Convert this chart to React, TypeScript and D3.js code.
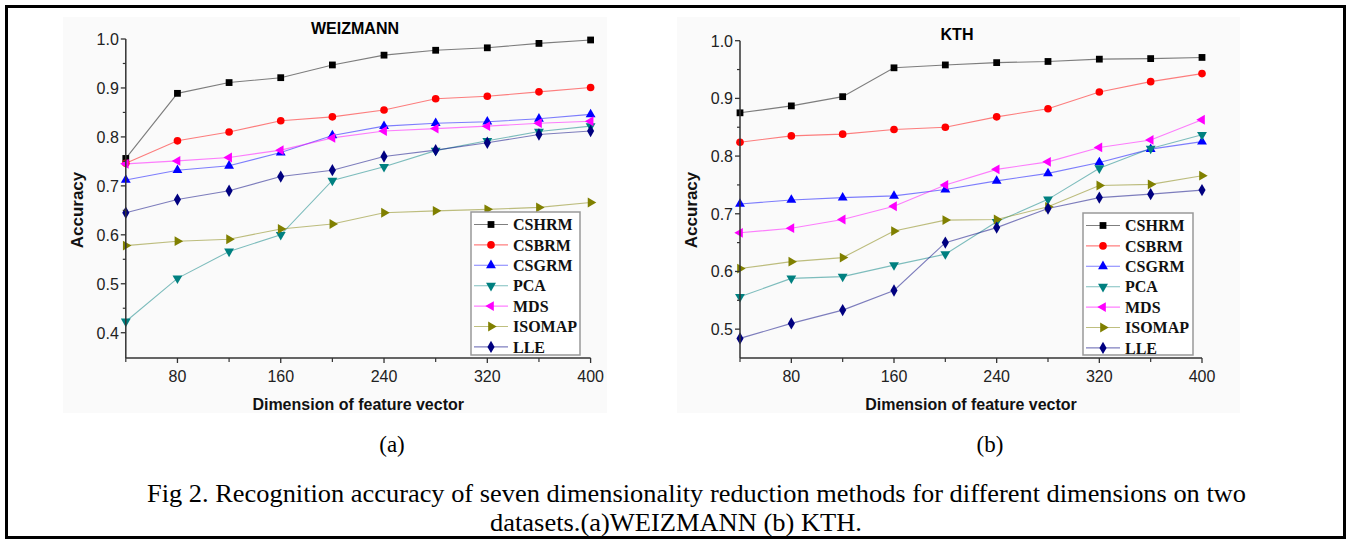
import React from "react";
import * as d3 from "d3";

const W = 1351;
const H = 540;

// feature vector dimensions (x axis)
const dims = [40, 80, 120, 160, 200, 240, 280, 320, 360, 400];
const xTickLabels = [80, 160, 240, 320, 400];
const xMinorTicks = [40, 120, 200, 280, 360];

const methods = ["CSHRM", "CSBRM", "CSGRM", "PCA", "MDS", "ISOMAP", "LLE"];

// WEIZMANN
const weizCSHRM = [0.756, 0.889, 0.911, 0.921, 0.947, 0.967, 0.977, 0.982, 0.991, 0.998];
const weizCSBRM = [0.746, 0.792, 0.81, 0.833, 0.841, 0.855, 0.878, 0.883, 0.892, 0.901];
const weizCSGRM = [0.712, 0.732, 0.741, 0.768, 0.803, 0.822, 0.828, 0.831, 0.837, 0.846];
const weizPCA = [0.423, 0.511, 0.566, 0.6, 0.711, 0.739, 0.772, 0.792, 0.811, 0.822];
const weizMDS = [0.745, 0.751, 0.758, 0.773, 0.798, 0.812, 0.817, 0.822, 0.828, 0.832];
const weizISOMAP = [0.578, 0.587, 0.591, 0.612, 0.622, 0.645, 0.649, 0.652, 0.656, 0.666];
const weizLLE = [0.645, 0.672, 0.69, 0.719, 0.732, 0.76, 0.773, 0.788, 0.805, 0.812];

// KTH
const kthCSHRM = [0.875, 0.887, 0.903, 0.953, 0.958, 0.962, 0.964, 0.968, 0.969, 0.971];
const kthCSBRM = [0.824, 0.835, 0.838, 0.846, 0.85, 0.868, 0.882, 0.911, 0.929, 0.943];
const kthCSGRM = [0.717, 0.724, 0.728, 0.731, 0.742, 0.757, 0.77, 0.789, 0.812, 0.825];
const kthPCA = [0.556, 0.588, 0.591, 0.611, 0.63, 0.686, 0.725, 0.779, 0.813, 0.837];
const kthMDS = [0.667, 0.675, 0.69, 0.713, 0.75, 0.777, 0.79, 0.815, 0.828, 0.863];
const kthISOMAP = [0.605, 0.617, 0.624, 0.67, 0.689, 0.69, 0.712, 0.749, 0.751, 0.766];
const kthLLE = [0.484, 0.51, 0.533, 0.567, 0.65, 0.676, 0.709, 0.728, 0.734, 0.741];

const weizTicks = ["0.4", "0.5", "0.6", "0.7", "0.8", "0.9", "1.0"];
const kthTicks = ["0.5", "0.6", "0.7", "0.8", "0.9", "1.0"];

const colors = ["#000000", "#ff0000", "#0000ff", "#008080", "#ff00ff", "#808000", "#000080"];
const shapes = [
  { type: d3.symbolSquare, size: 46, rot: 0 },
  { type: d3.symbolCircle, size: 46, rot: 0 },
  { type: d3.symbolTriangle, size: 42, rot: 0 },
  { type: d3.symbolTriangle, size: 42, rot: 180 },
  { type: d3.symbolTriangle, size: 42, rot: -90 },
  { type: d3.symbolTriangle, size: 42, rot: 90 },
  { type: d3.symbolDiamond, size: 44, rot: 0 },
];

const sans = "'Liberation Sans', Arial, sans-serif";
const serif = "'Liberation Serif', 'Times New Roman', serif";

function Panel(props: any) {
  const { series, yDomain, yRange, xRange, ticks, title, titlePos, legend, sub, subX, bg } = props;
  const x = d3.scaleLinear().domain([40, 400]).range(xRange);
  const y = d3.scaleLinear().domain(yDomain).range(yRange);
  const axisY = 358;
  const line = d3
    .line<number>()
    .x((d, i) => x(dims[i]))
    .y((d) => y(d));
  const minorY = ticks.slice(0, -1).map((t: string) => +t + 0.05);
  const x0 = xRange[0];
  const cx = (xRange[0] + xRange[1]) / 2;

  return (
    <g>
      <rect x={bg[0]} y={17} width={bg[1] - bg[0]} height={396} fill="#fafafa" />
      <text x={titlePos[0]} y={titlePos[1]} textAnchor="middle" fontFamily={sans} fontWeight="bold" fontSize={16}>
        {title}
      </text>
      {series.map((vals: number[], k: number) => (
        <path key={"l" + k} d={line(vals) || ""} fill="none" stroke={colors[k]} strokeOpacity={0.5} strokeWidth={1.1} />
      ))}
      {series.map((vals: number[], k: number) =>
        vals.map((v, i) => (
          <path
            key={"m" + k + "-" + i}
            d={d3.symbol().type(shapes[k].type).size(shapes[k].size)() || ""}
            transform={`translate(${x(dims[i])},${y(v)}) rotate(${shapes[k].rot})`}
            fill={colors[k]}
          />
        ))
      )}
      {/* y axis */}
      <line x1={x0} x2={x0} y1={y(1.0)} y2={axisY} stroke="#333" strokeWidth={1.5} />
      {ticks.map((t: string) => (
        <g key={t}>
          <line x1={x0 - 5} x2={x0} y1={y(+t)} y2={y(+t)} stroke="#333" strokeWidth={1.3} />
          <text x={x0 - 7} y={y(+t) + 5.8} textAnchor="end" fontFamily={sans} fontSize={16} fill="#222">
            {t}
          </text>
        </g>
      ))}
      {minorY.map((t: number) => (
        <line key={"mn" + t} x1={x0 - 3} x2={x0} y1={y(t)} y2={y(t)} stroke="#333" strokeWidth={1.2} />
      ))}
      {/* x axis */}
      <line x1={x0} x2={xRange[1]} y1={axisY} y2={axisY} stroke="#333" strokeWidth={1.5} />
      {xTickLabels.map((t) => (
        <g key={t}>
          <line x1={x(t)} x2={x(t)} y1={axisY} y2={axisY + 5} stroke="#333" strokeWidth={1.3} />
          <text x={x(t)} y={381.5} textAnchor="middle" fontFamily={sans} fontSize={16} fill="#222">
            {t}
          </text>
        </g>
      ))}
      {xMinorTicks.map((t) => (
        <line key={"xm" + t} x1={x(t)} x2={x(t)} y1={axisY} y2={axisY + 4} stroke="#333" strokeWidth={1.2} />
      ))}
      <text x={cx} y={410} textAnchor="middle" fontFamily={sans} fontWeight="bold" fontSize={16} fill="#111">
        Dimension of feature vector
      </text>
      <text
        transform={`translate(${x0 - 43},210) rotate(-90)`}
        textAnchor="middle"
        fontFamily={sans}
        fontWeight="bold"
        fontSize={17}
        fill="#111"
      >
        Accuracy
      </text>
      {/* legend */}
      <rect
        x={legend[0]}
        y={legend[1]}
        width={legend[2]}
        height={legend[3]}
        fill="#ffffff"
        stroke="#999"
        strokeWidth={1.5}
      />
      {methods.map((m, k) => {
        const ry = legend[1] + 12.5 + k * 20.4;
        const lx = legend[0] + 3;
        return (
          <g key={m}>
            <line x1={lx} x2={lx + 34} y1={ry} y2={ry} stroke={colors[k]} strokeOpacity={0.5} strokeWidth={1.1} />
            <path
              d={d3.symbol().type(shapes[k].type).size(shapes[k].size)() || ""}
              transform={`translate(${lx + 17},${ry}) rotate(${shapes[k].rot})`}
              fill={colors[k]}
            />
            <text x={lx + 39} y={ry + 5.6} fontFamily={serif} fontWeight="bold" fontSize={16} fill="#111">
              {m}
            </text>
          </g>
        );
      })}
      <text x={subX} y={452} textAnchor="middle" fontFamily={serif} fontSize={23} fill="#000">
        {sub}
      </text>
    </g>
  );
}

export default function App() {
  const weiz = [weizCSHRM, weizCSBRM, weizCSGRM, weizPCA, weizMDS, weizISOMAP, weizLLE];
  const kth = [kthCSHRM, kthCSBRM, kthCSGRM, kthPCA, kthMDS, kthISOMAP, kthLLE];
  return (
    <svg width={W} height={H} style={{ position: "absolute", left: 0, top: 0, background: "#fff" }}>
      <rect x={0} y={0} width={W} height={H} fill="#fff" />
      <Panel
        series={weiz}
        yDomain={[0.35, 1.0]}
        yRange={[357.2, 39]}
        xRange={[125.8, 590.6]}
        ticks={weizTicks}
        title="WEIZMANN"
        titlePos={[355, 34]}
        legend={[471, 212, 109, 143]}
        sub="(a)"
        subX={392}
        bg={[63, 607]}
      />
      <Panel
        series={kth}
        yDomain={[0.45, 1.0]}
        yRange={[358, 40.7]}
        xRange={[740, 1202]}
        ticks={kthTicks}
        title="KTH"
        titlePos={[957, 40]}
        legend={[1083, 213, 110, 142]}
        sub="(b)"
        subX={990}
        bg={[677, 1240]}
      />
      <text x={147} y={502} fontFamily={serif} fontSize={26} textLength={1099} lengthAdjust="spacingAndGlyphs">
        Fig 2. Recognition accuracy of seven dimensionality reduction methods for different dimensions on two
      </text>
      <text x={490} y={531} fontFamily={serif} fontSize={26} textLength={372} lengthAdjust="spacingAndGlyphs">
        datasets.(a)WEIZMANN (b) KTH.
      </text>
      <rect x={6.5} y={6.5} width={1338} height={531} fill="none" stroke="#000" strokeWidth={3} />
    </svg>
  );
}
